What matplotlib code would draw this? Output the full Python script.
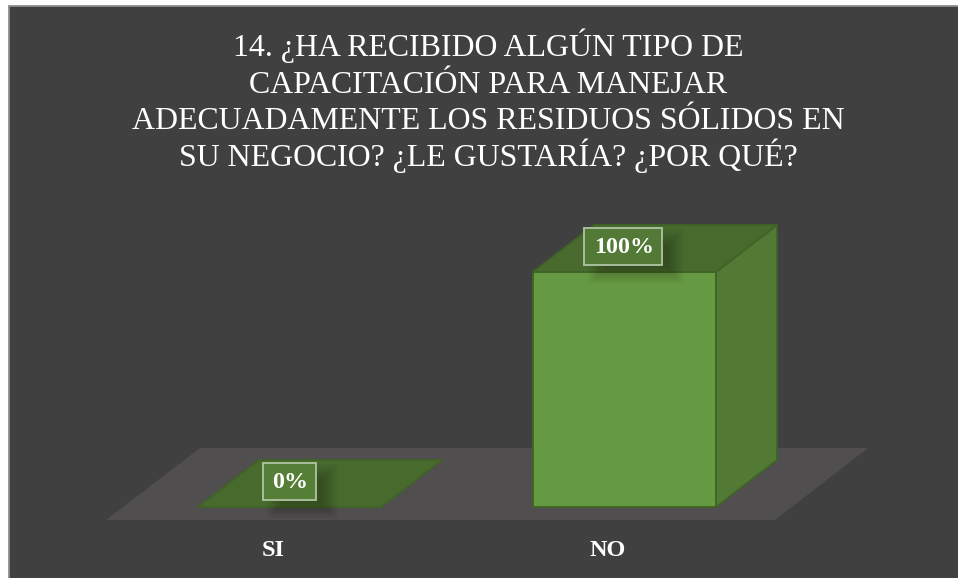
import matplotlib
matplotlib.use("Agg")
import matplotlib.pyplot as plt
from matplotlib.patches import Polygon, Rectangle

categories = ["SI", "NO"]
values = [0, 100]
labels = ["0%", "100%"]
title_lines = ["14. ¿HA RECIBIDO ALGÚN TIPO DE",
               "CAPACITACIÓN PARA MANEJAR",
               "ADECUADAMENTE LOS RESIDUOS SÓLIDOS EN",
               "SU NEGOCIO? ¿LE GUSTARÍA? ¿POR QUÉ?"]

W, H = 958, 578
X0, STEP = 289.5, 335.0    # px of first bar centre, px between bars
Y0, PER = 507.0, 2.35      # px of value 0, px per percent
BAR_W = 183 / STEP
px = 1 / STEP
py = 1 / PER
DX, DY = 61 * px, 47 * py  # 3d depth


def xd(x):
    return (x - X0) / STEP


def yd(y):
    return (Y0 - y) / PER


plt.rcParams["font.family"] = ["Liberation Serif", "DejaVu Serif"]

fig = plt.figure(figsize=(W / 100, H / 100), dpi=100, facecolor="white")
ax = fig.add_axes([0, 0, 1, 1])
ax.set_xlim(xd(0), xd(W))
ax.set_ylim(yd(H), yd(0))
ax.axis("off")

# panel
ax.add_patch(Rectangle((xd(8.5), yd(H + 5)), (W + 5) * px, (H + 5 - 5.5) * py,
                       fc="#404040", ec="#8c8c8c", lw=1.3, zorder=0))

# floor
ax.add_patch(Polygon([(xd(106), yd(520)), (xd(775), yd(520)), (xd(868), yd(448)), (xd(200), yd(448))],
                     fc="#504E4E", ec="none", zorder=1))

edge = "#3F6425"
for i, v in enumerate(values):
    x0 = i - BAR_W / 2
    x1 = i + BAR_W / 2
    if v > 0:
        ax.add_patch(Polygon([(x1, 0), (x1 + DX, DY), (x1 + DX, v + DY), (x1, v)],
                             fc="#527A34", ec=edge, lw=1.3, zorder=2))
        ax.add_patch(Rectangle((x0, 0), BAR_W, v, fc="#669A42", ec=edge, lw=1.3, zorder=3))
    ax.add_patch(Polygon([(x0, v), (x1, v), (x1 + DX, v + DY), (x0 + DX, v + DY)],
                         fc="#496A2D", ec=edge, lw=1.3, zorder=3))

    # label with a soft shadow
    cx, cy = i - 1.5 * px * (v > 0), v + 25.5 * py
    w = (78 if v == 100 else 53) * px
    h = 37 * py
    for k in range(14):
        g = 9 - k * 1.2
        ax.add_patch(Rectangle((cx - w / 2 + (13 - g) * px, cy - h / 2 - (10 + g) * py),
                               w + 2 * g * px, h + 2 * g * py,
                               fc="black", ec="none", alpha=0.014, zorder=4))
    ax.add_patch(Rectangle((cx - w / 2, cy - h / 2), w, h, fc="#557F37" if v == 0 else "#527A36",
                           ec="#A9BE9B", lw=1.4, zorder=5))
    ax.text(cx + 1 * px, cy - 6.5 * py, labels[i], ha="center", va="baseline", color="white",
            fontsize=17.3, fontweight="bold", zorder=6)

    ax.text(i - 16.5 * px, yd(556), categories[i], ha="center", va="baseline", color="white",
            fontsize=17.5, fontweight="bold", zorder=6)

for n, line in enumerate(title_lines):
    ax.text(xd(488.5), yd(56 + 36.6 * n), line, ha="center", va="baseline", color="white",
            fontsize=22.95, zorder=6)

fig.savefig("out.png", dpi=100, facecolor="white")
